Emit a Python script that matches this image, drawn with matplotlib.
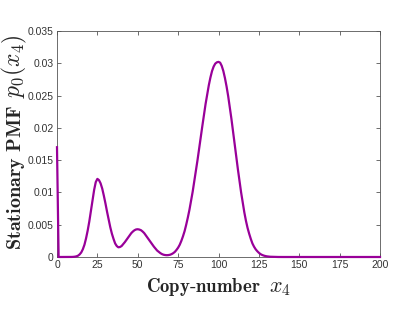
import matplotlib
matplotlib.use("Agg")
import matplotlib.pyplot as plt

copy_number = list(range(0, 141)) + [200]
pmf_e3 = [17.0, 0.0, 0.0, 0.0, 0.0, 0.0, 0.0, 0.0, 0.005, 0.01,
          0.02, 0.05, 0.1, 0.2, 0.4, 0.7, 1.2, 1.9, 2.9, 4.1,
          5.5, 7.1, 8.8, 10.4, 11.6, 12.1, 11.9, 11.4, 10.6, 9.5,
          8.3, 7.0, 5.8, 4.6, 3.6, 2.8, 2.1, 1.7, 1.5, 1.55,
          1.7, 2.0, 2.3, 2.65, 3.0, 3.35, 3.7, 3.95, 4.15, 4.27,
          4.3, 4.25, 4.15, 3.95, 3.7, 3.35, 3.0, 2.65, 2.3, 1.95,
          1.6, 1.3, 1.0, 0.8, 0.6, 0.45, 0.35, 0.3, 0.28, 0.3,
          0.35, 0.45, 0.6, 0.8, 1.1, 1.45, 1.9, 2.5, 3.2, 4.0,
          5.0, 6.1, 7.3, 8.7, 10.1, 11.7, 13.3, 15.0, 16.8, 18.5,
          20.3, 22.0, 23.7, 25.2, 26.6, 27.8, 28.8, 29.5, 29.95, 30.15,
          30.22, 30.1, 29.6, 28.8, 27.7, 26.4, 24.9, 23.2, 21.4, 19.5,
          17.5, 15.5, 13.6, 11.8, 10.0, 8.4, 6.9, 5.6, 4.5, 3.6,
          2.8, 2.1, 1.6, 1.2, 0.9, 0.65, 0.45, 0.32, 0.22, 0.15,
          0.1, 0.07, 0.04, 0.03, 0.02, 0.01, 0.006, 0.003, 0.001, 0.0,
          0.0, 0.0]
pmf = [v * 1e-3 for v in pmf_e3]

xticks = [0, 25, 50, 75, 100, 125, 150, 175, 200]
yticks = [0, 0.005, 0.01, 0.015, 0.02, 0.025, 0.03, 0.035]
ytick_labels = ["0", "0.005", "0.01", "0.015", "0.02", "0.025", "0.03", "0.035"]

xlabel_text = r"$\mathbf{Copy\text{-}number}$"
xlabel_math = r"$x_4$"
ylabel_text = r"$\mathbf{Stationary\ PMF}$"
ylabel_math = r"$p_0(x_4)$"

plt.rcParams["mathtext.fontset"] = "cm"
plt.rcParams["font.family"] = ["Liberation Sans", "DejaVu Sans"]

W, H = 415, 320
fig = plt.figure(figsize=(W / 100, H / 100), dpi=100)
ax = fig.add_axes([57 / W, 1 - 257 / H, (380 - 57) / W, (257 - 31) / H])
ax.plot(copy_number, pmf, color="#990099", linewidth=1.6, solid_joinstyle="round",
        clip_on=False, zorder=3)
ax.set_xlim(0, 200)
ax.set_ylim(0, 0.035)
ax.set_xticks(xticks)
ax.set_xticklabels([str(t) for t in xticks])
ax.set_yticks(yticks)
ax.set_yticklabels(ytick_labels)
ax.tick_params(direction="in", top=True, right=True, labelsize=7.5, colors="#333333",
               length=3, width=0.5, pad=2.5)
for s in ax.spines.values():
    s.set_color("#555555")
    s.set_linewidth(0.6)

renderer = fig.canvas.get_renderer()


def label_text(s, size, rot=0):
    t = fig.text(0, 0, s, fontsize=size, rotation=rot, rotation_mode="anchor",
                 ha="left", va="baseline", color="#262626")
    bb = t.get_window_extent(renderer)
    return t, (bb.height if rot else bb.width)


# x label: bold words then math, baseline at y=292 px
t1, w1 = label_text(xlabel_text, 13.5)
t2, w2 = label_text(xlabel_math, 16)
gap = 9
x0 = 218.5 - (w1 + gap + w2) / 2
base = 1 - 292 / H
t1.set_position((x0 / W, base))
t2.set_position(((x0 + w1 + gap) / W, base))

# y label: rotated, starting at the bottom
u1, h1 = label_text(ylabel_text, 14.5, rot=90)
u2, h2 = label_text(ylabel_math, 17, rot=90)
ybase = 20.5
ystart = 250
u1.set_position((ybase / W, 1 - ystart / H))
u2.set_position((ybase / W, 1 - (ystart - h1 - 7) / H))

fig.savefig("out.png", dpi=100)
